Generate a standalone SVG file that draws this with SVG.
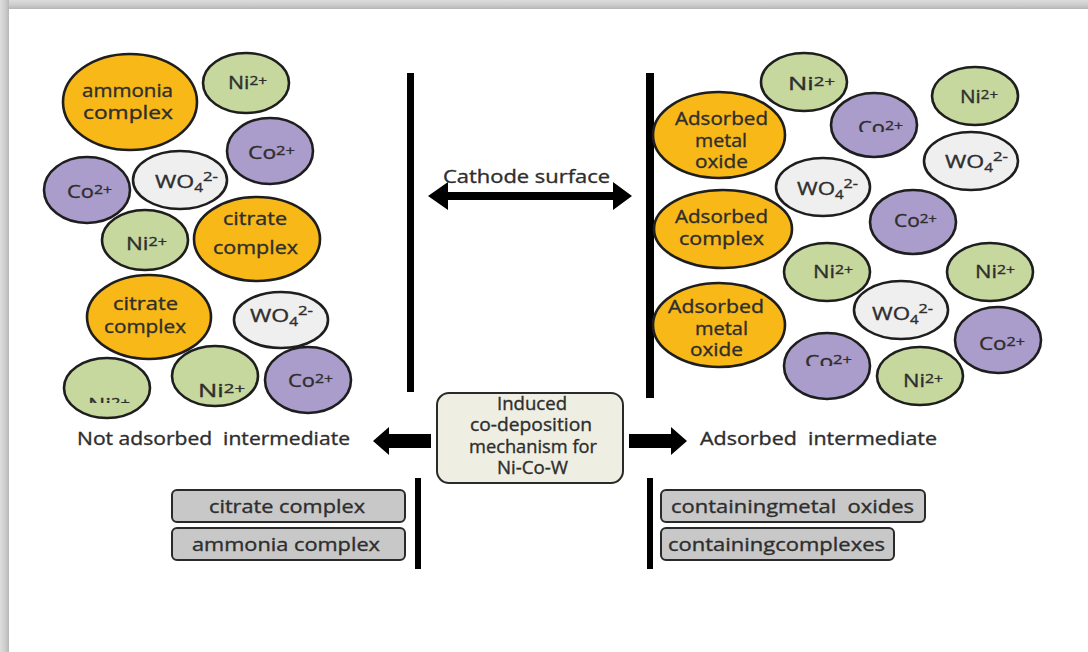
<svg xmlns="http://www.w3.org/2000/svg" width="1088" height="652" viewBox="0 0 1088 652">
  <defs>
    <style>
      .ell { stroke: #1e1e1e; stroke-width: 2.6; }
      .org { fill: #f8b817; }
      .grn { fill: #c6d89e; }
      .pur { fill: #ab9dcb; }
      .wht { fill: #efefef; }
      .lbl { font-family: "Open Sans", "Liberation Sans", sans-serif; font-size: 18px; fill: #2e2e2e; stroke: #2e2e2e; stroke-width: 0.35; }
      .sup { font-size: 13px; }
      .sub { font-size: 12px; }
      .bar { fill: #000000; }
      .tag { fill: #c8c8c8; stroke: #2a2a2a; stroke-width: 2; }
    </style>
    <linearGradient id="bandTop" x1="0" y1="0" x2="0" y2="1">
      <stop offset="0" stop-color="#dcdcdc"/>
      <stop offset="0.6" stop-color="#cbcbcb"/>
      <stop offset="1" stop-color="#b4b4b4"/>
    </linearGradient>
    <linearGradient id="bandLeft" x1="0" y1="0" x2="1" y2="0">
      <stop offset="0" stop-color="#dedede"/>
      <stop offset="0.6" stop-color="#cccccc"/>
      <stop offset="1" stop-color="#b6b6b6"/>
    </linearGradient>
    <clipPath id="cutL10"><rect x="60" y="350" width="100" height="53"/></clipPath>
    <clipPath id="cutR5"><rect x="830" y="90" width="90" height="42"/></clipPath>
    <clipPath id="cutR14"><rect x="780" y="330" width="95" height="36"/></clipPath>
  </defs>

  <!-- page -->
  <rect x="0" y="0" width="1088" height="652" fill="#ffffff"/>
  <rect x="0" y="0" width="1088" height="9" fill="url(#bandTop)"/>
  <rect x="0" y="0" width="9" height="652" fill="url(#bandLeft)"/>

  <!-- electrode bars and arrows -->
  <g id="connectors">
    <rect class="bar" x="407" y="73" width="7" height="319"/>
    <rect class="bar" x="646" y="73" width="8" height="325"/>
    <rect class="bar" x="415" y="478" width="6" height="91"/>
    <rect class="bar" x="647" y="478" width="6" height="91"/>
    <!-- cathode surface double arrow -->
    <polygon class="bar" points="428,196 448,182 448,192 613,192 613,182 632,196 613,210 613,200 448,200 448,210"/>
    <!-- left / right arrows from the mechanism box -->
    <polygon class="bar" points="373,441 389,427 389,434 431,434 431,448 389,448 389,455"/>
    <polygon class="bar" points="629,434 671,434 671,427 687,441 671,455 671,448 629,448"/>
  </g>

  <!-- solution side (left) -->
  <g id="L1"><ellipse class="ell org" cx="130" cy="102" rx="67" ry="48"/>
    <text class="lbl" x="82" y="97" textLength="91" lengthAdjust="spacingAndGlyphs">ammonia</text>
    <text class="lbl" x="83" y="119" textLength="90" lengthAdjust="spacingAndGlyphs">complex</text></g>
  <g id="L2"><ellipse class="ell grn" cx="246" cy="83" rx="43" ry="30"/>
    <text class="lbl" x="228" y="89" textLength="39" lengthAdjust="spacingAndGlyphs">Ni<tspan class="sup" dy="-4">2+</tspan></text></g>
  <g id="L3"><ellipse class="ell pur" cx="270" cy="151" rx="43" ry="33"/>
    <text class="lbl" x="248" y="159" textLength="47" lengthAdjust="spacingAndGlyphs">Co<tspan class="sup" dy="-4">2+</tspan></text></g>
  <g id="L4"><ellipse class="ell pur" cx="87" cy="190" rx="43" ry="33"/>
    <text class="lbl" x="67" y="198" textLength="45" lengthAdjust="spacingAndGlyphs">Co<tspan class="sup" dy="-4">2+</tspan></text></g>
  <g id="L5"><ellipse class="ell wht" cx="180" cy="180" rx="47" ry="29"/>
    <text class="lbl" x="155" y="188" textLength="63" lengthAdjust="spacingAndGlyphs">WO<tspan class="sub" dy="4">4</tspan><tspan class="sup" dy="-11">2-</tspan></text></g>
  <g id="L6"><ellipse class="ell grn" cx="145" cy="240" rx="43" ry="30"/>
    <text class="lbl" x="126" y="250" textLength="41" lengthAdjust="spacingAndGlyphs">Ni<tspan class="sup" dy="-4">2+</tspan></text></g>
  <g id="L7"><ellipse class="ell org" cx="257" cy="239" rx="63" ry="42"/>
    <text class="lbl" x="223" y="225" textLength="64" lengthAdjust="spacingAndGlyphs">citrate</text>
    <text class="lbl" x="213" y="254" textLength="85" lengthAdjust="spacingAndGlyphs">complex</text></g>
  <g id="L8"><ellipse class="ell org" cx="149" cy="317" rx="62" ry="42"/>
    <text class="lbl" x="113" y="310" textLength="65" lengthAdjust="spacingAndGlyphs">citrate</text>
    <text class="lbl" x="104" y="333" textLength="82" lengthAdjust="spacingAndGlyphs">complex</text></g>
  <g id="L9"><ellipse class="ell wht" cx="281" cy="320" rx="47" ry="28"/>
    <text class="lbl" x="250" y="322" textLength="63" lengthAdjust="spacingAndGlyphs">WO<tspan class="sub" dy="4">4</tspan><tspan class="sup" dy="-11">2-</tspan></text></g>
  <g id="L10"><ellipse class="ell grn" cx="107" cy="388" rx="43" ry="30"/>
    <text class="lbl" x="88" y="411" textLength="42" lengthAdjust="spacingAndGlyphs" clip-path="url(#cutL10)">Ni<tspan class="sup" dy="-4">2+</tspan></text></g>
  <g id="L11"><ellipse class="ell grn" cx="215" cy="376" rx="43" ry="30"/>
    <text class="lbl" x="198" y="397" textLength="47" lengthAdjust="spacingAndGlyphs">Ni<tspan class="sup" dy="-4">2+</tspan></text></g>
  <g id="L12"><ellipse class="ell pur" cx="308" cy="380" rx="43" ry="33"/>
    <text class="lbl" x="288" y="387" textLength="45" lengthAdjust="spacingAndGlyphs">Co<tspan class="sup" dy="-4">2+</tspan></text></g>

  <!-- cathode side (right) -->
  <g id="R1"><ellipse class="ell org" cx="719" cy="135" rx="66" ry="43"/>
    <text class="lbl" x="675" y="125" textLength="93" lengthAdjust="spacingAndGlyphs">Adsorbed</text>
    <text class="lbl" x="695" y="147" textLength="52" lengthAdjust="spacingAndGlyphs">metal</text>
    <text class="lbl" x="695" y="168" textLength="53" lengthAdjust="spacingAndGlyphs">oxide</text></g>
  <g id="R2"><ellipse class="ell org" cx="723" cy="229" rx="69" ry="39"/>
    <text class="lbl" x="675" y="223" textLength="93" lengthAdjust="spacingAndGlyphs">Adsorbed</text>
    <text class="lbl" x="679" y="245" textLength="85" lengthAdjust="spacingAndGlyphs">complex</text></g>
  <g id="R3"><ellipse class="ell org" cx="719" cy="325" rx="66" ry="42"/>
    <text class="lbl" x="668" y="313" textLength="96" lengthAdjust="spacingAndGlyphs">Adsorbed</text>
    <text class="lbl" x="695" y="335" textLength="53" lengthAdjust="spacingAndGlyphs">metal</text>
    <text class="lbl" x="690" y="356" textLength="53" lengthAdjust="spacingAndGlyphs">oxide</text></g>
  <g id="R4"><ellipse class="ell grn" cx="804" cy="82" rx="43" ry="29"/>
    <text class="lbl" x="788" y="90" textLength="47" lengthAdjust="spacingAndGlyphs">Ni<tspan class="sup" dy="-4">2+</tspan></text></g>
  <g id="R5"><ellipse class="ell pur" cx="874" cy="125" rx="43" ry="32"/>
    <text class="lbl" x="858" y="134" textLength="45" lengthAdjust="spacingAndGlyphs" clip-path="url(#cutR5)">Co<tspan class="sup" dy="-4">2+</tspan></text></g>
  <g id="R6"><ellipse class="ell grn" cx="975" cy="96" rx="43" ry="29"/>
    <text class="lbl" x="960" y="103" textLength="38" lengthAdjust="spacingAndGlyphs">Ni<tspan class="sup" dy="-4">2+</tspan></text></g>
  <g id="R7"><ellipse class="ell wht" cx="971" cy="161" rx="47" ry="29"/>
    <text class="lbl" x="945" y="168" textLength="63" lengthAdjust="spacingAndGlyphs">WO<tspan class="sub" dy="4">4</tspan><tspan class="sup" dy="-11">2-</tspan></text></g>
  <g id="R8"><ellipse class="ell wht" cx="823" cy="187" rx="47" ry="29"/>
    <text class="lbl" x="797" y="195" textLength="61" lengthAdjust="spacingAndGlyphs">WO<tspan class="sub" dy="4">4</tspan><tspan class="sup" dy="-11">2-</tspan></text></g>
  <g id="R9"><ellipse class="ell pur" cx="913" cy="222" rx="43" ry="32"/>
    <text class="lbl" x="894" y="227" textLength="43" lengthAdjust="spacingAndGlyphs">Co<tspan class="sup" dy="-4">2+</tspan></text></g>
  <g id="R10"><ellipse class="ell grn" cx="827" cy="272" rx="43" ry="29"/>
    <text class="lbl" x="813" y="278" textLength="40" lengthAdjust="spacingAndGlyphs">Ni<tspan class="sup" dy="-4">2+</tspan></text></g>
  <g id="R11"><ellipse class="ell grn" cx="990" cy="272" rx="43" ry="29"/>
    <text class="lbl" x="975" y="278" textLength="40" lengthAdjust="spacingAndGlyphs">Ni<tspan class="sup" dy="-4">2+</tspan></text></g>
  <g id="R12"><ellipse class="ell wht" cx="901" cy="310" rx="47" ry="29"/>
    <text class="lbl" x="872" y="320" textLength="61" lengthAdjust="spacingAndGlyphs">WO<tspan class="sub" dy="4">4</tspan><tspan class="sup" dy="-11">2-</tspan></text></g>
  <g id="R13"><ellipse class="ell pur" cx="998" cy="340" rx="43" ry="33"/>
    <text class="lbl" x="979" y="350" textLength="46" lengthAdjust="spacingAndGlyphs">Co<tspan class="sup" dy="-4">2+</tspan></text></g>
  <g id="R14"><ellipse class="ell pur" cx="827" cy="366" rx="43" ry="33"/>
    <text class="lbl" x="805" y="368" textLength="47" lengthAdjust="spacingAndGlyphs" clip-path="url(#cutR14)">Co<tspan class="sup" dy="-4">2+</tspan></text></g>
  <g id="R15"><ellipse class="ell grn" cx="920" cy="376" rx="43" ry="29"/>
    <text class="lbl" x="903" y="387" textLength="40" lengthAdjust="spacingAndGlyphs">Ni<tspan class="sup" dy="-4">2+</tspan></text></g>

  <!-- captions -->
  <g id="cathode-label">
    <text class="lbl" x="443" y="183" textLength="167" lengthAdjust="spacingAndGlyphs">Cathode surface</text>
  </g>
  <g id="not-adsorbed">
    <text class="lbl" x="77" y="445" textLength="273" lengthAdjust="spacingAndGlyphs" xml:space="preserve">Not adsorbed  intermediate</text>
  </g>
  <g id="adsorbed">
    <text class="lbl" x="700" y="445" textLength="237" lengthAdjust="spacingAndGlyphs" xml:space="preserve">Adsorbed  intermediate</text>
  </g>

  <!-- central mechanism box -->
  <g id="mechanism">
    <rect x="437" y="393" width="186" height="90" rx="12" ry="12" fill="#eeeee2" stroke="#2a2a2a" stroke-width="2"/>
    <text class="lbl" x="497" y="410" font-size="15.5" textLength="70" lengthAdjust="spacingAndGlyphs">Induced</text>
    <text class="lbl" x="470" y="431" font-size="15.5" textLength="122" lengthAdjust="spacingAndGlyphs">co-deposition</text>
    <text class="lbl" x="469" y="453" font-size="15.5" textLength="128" lengthAdjust="spacingAndGlyphs">mechanism for</text>
    <text class="lbl" x="497" y="474" font-size="15.5" textLength="71" lengthAdjust="spacingAndGlyphs">Ni-Co-W</text>
  </g>

  <!-- intermediate tags -->
  <g id="tag-citrate">
    <rect class="tag" x="172" y="490" width="233" height="32" rx="5" ry="5"/>
    <text class="lbl" x="209" y="513" textLength="156" lengthAdjust="spacingAndGlyphs">citrate complex</text>
  </g>
  <g id="tag-ammonia">
    <rect class="tag" x="172" y="528" width="233" height="32" rx="5" ry="5"/>
    <text class="lbl" x="192" y="551" textLength="188" lengthAdjust="spacingAndGlyphs">ammonia complex</text>
  </g>
  <g id="tag-oxides">
    <rect class="tag" x="661" y="490" width="264" height="32" rx="5" ry="5"/>
    <text class="lbl" x="671" y="513" textLength="243" lengthAdjust="spacingAndGlyphs" xml:space="preserve">containingmetal  oxides</text>
  </g>
  <g id="tag-complexes">
    <rect class="tag" x="661" y="528" width="233" height="32" rx="5" ry="5"/>
    <text class="lbl" x="668" y="551" textLength="217" lengthAdjust="spacingAndGlyphs">containingcomplexes</text>
  </g>
</svg>
